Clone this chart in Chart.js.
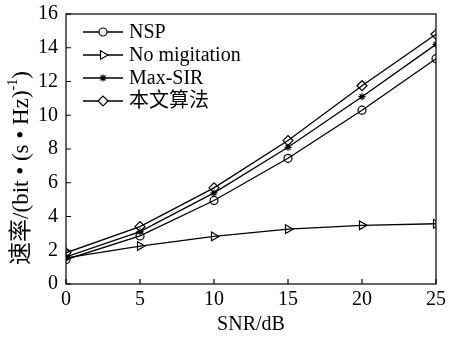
<!DOCTYPE html>
<html>
<head>
<meta charset="utf-8">
<script src="https://cdn.jsdelivr.net/npm/chart.js@4"></script>
<style>
  html, body { margin: 0; padding: 0; background: #fff; }
  #wrap { width: 454px; height: 341px; }
</style>
</head>
<body>
<div id="wrap"><canvas id="rateChart" width="454" height="341"></canvas></div>
<script>
// SNR values on the x axis (dB)
const snr = [0, 5, 10, 15, 20, 25];
const xTicks = [0, 5, 10, 15, 20, 25];
const yTicks = [0, 2, 4, 6, 8, 10, 12, 14, 16];

// rate values
const nsp = [1.45, 2.85, 4.95, 7.45, 10.3, 13.35];
const noMigration = [1.55, 2.25, 2.82, 3.25, 3.48, 3.57];
const maxSir = [1.6, 3.1, 5.4, 8.1, 11.1, 14.2];
const proposed = [1.85, 3.4, 5.7, 8.5, 11.75, 14.8];

const seriesNames = ["NSP", "No migitation", "Max-SIR", "本文算法"];

const serif = "'Liberation Serif', 'Times New Roman', 'Noto Sans CJK SC', serif";

const toPoints = (vals) => snr.map((x, i) => ({ x: x, y: vals[i] }));

const makeSet = (label, vals, style, radius, rotation) => ({
    label: label,
    data: toPoints(vals),
    borderColor: "#000",
    backgroundColor: "rgba(0,0,0,0)",
    borderWidth: 1.3,
    pointStyle: style,
    pointRadius: radius,
    pointRotation: rotation,
    pointBorderColor: "#000",
    pointBackgroundColor: "rgba(0,0,0,0)",
    pointBorderWidth: 1.2,
    tension: 0
});

// box, inward ticks, titles and legend
const decor = {
    id: "decor",
    afterDraw(chart) {
        const ctx = chart.ctx;
        const area = chart.chartArea;
        const xs = chart.scales.x;
        const ys = chart.scales.y;
        ctx.save();
        ctx.strokeStyle = "#000";
        ctx.lineWidth = 1.2;
        ctx.strokeRect(area.left, area.top, area.right - area.left, area.bottom - area.top);

        ctx.beginPath();
        xs.ticks.forEach(t => {
            const px = xs.getPixelForValue(t.value);
            ctx.moveTo(px, area.bottom);
            ctx.lineTo(px, area.bottom - 5);
        });
        ys.ticks.forEach(t => {
            const py = ys.getPixelForValue(t.value);
            ctx.moveTo(area.left, py);
            ctx.lineTo(area.left + 5, py);
        });
        ctx.stroke();

        // y axis title with superscript
        ctx.fillStyle = "#000";
        ctx.translate(22, 168);
        ctx.rotate(-Math.PI / 2);
        ctx.textBaseline = "middle";
        const mainFont = "23px " + serif;
        const supFont = "14px " + serif;
        const partA = "速率/(bit • (s • Hz)";
        const partB = "-1";
        const partC = ")";
        ctx.font = mainFont;
        const wA = ctx.measureText(partA).width;
        const wC = ctx.measureText(partC).width;
        ctx.font = supFont;
        const wB = ctx.measureText(partB).width;
        let cx = -(wA + wB + wC) / 2;
        ctx.font = mainFont;
        ctx.fillText(partA, cx, 0);
        cx += wA;
        ctx.font = supFont;
        ctx.fillText(partB, cx, -9);
        cx += wB;
        ctx.font = mainFont;
        ctx.fillText(partC, cx, 0);
        ctx.restore();

        // legend
        ctx.save();
        ctx.font = "20px " + serif;
        ctx.textBaseline = "middle";
        chart.data.datasets.forEach((ds, i) => {
            const y = area.top + 18 + i * 23;
            const x0 = area.left + 17;
            ctx.strokeStyle = "#000";
            ctx.lineWidth = 1.3;
            ctx.beginPath();
            ctx.moveTo(x0, y);
            ctx.lineTo(x0 + 40, y);
            ctx.stroke();
            ctx.fillStyle = "#fff";
            ctx.lineWidth = 1.2;
            Chart.helpers.drawPoint(ctx, {
                pointStyle: ds.pointStyle,
                radius: ds.pointRadius,
                rotation: ds.pointRotation,
                borderWidth: 1.2
            }, x0 + 20, y);
            ctx.fillStyle = "#000";
            ctx.fillText(ds.label, x0 + 46, y + 1);
        });
        ctx.restore();
    }
};

const chart = new Chart(document.getElementById("rateChart"), {
    type: "line",
    data: {
        datasets: [
            makeSet(seriesNames[0], nsp, "circle", 4, 0),
            makeSet(seriesNames[1], noMigration, "triangle", 5, 90),
            makeSet(seriesNames[2], maxSir, "star", 3.5, 0),
            makeSet(seriesNames[3], proposed, "rectRot", 5, 0)
        ]
    },
    options: {
        responsive: false,
        animation: false,
        layout: { padding: { top: 14, right: 18, left: 0, bottom: 0 } },
        plugins: {
            legend: { display: false },
            tooltip: { enabled: false }
        },
        scales: {
            x: {
                type: "linear",
                min: 0,
                max: 25,
                afterBuildTicks: (s) => { s.ticks = xTicks.map(v => ({ value: v })); },
                afterFit: (s) => { s.height = 57; s.paddingLeft = 0; s.paddingRight = 0; },
                grid: { display: false, drawTicks: false },
                border: { display: false },
                ticks: { color: "#000", font: { family: serif, size: 20 }, padding: 4, maxRotation: 0 },
                title: {
                    display: true,
                    text: "SNR/dB",
                    color: "#000",
                    font: { family: serif, size: 20 },
                    padding: { top: 0, bottom: 4 }
                }
            },
            y: {
                min: 0,
                max: 16,
                afterBuildTicks: (s) => { s.ticks = yTicks.map(v => ({ value: v })); },
                afterFit: (s) => { s.width = 66; s.paddingTop = 0; s.paddingBottom = 0; },
                grid: { display: false, drawTicks: false },
                border: { display: false },
                ticks: { color: "#000", font: { family: serif, size: 20 }, padding: 8 }
            }
        }
    },
    plugins: [decor]
});
</script>
</body>
</html>
